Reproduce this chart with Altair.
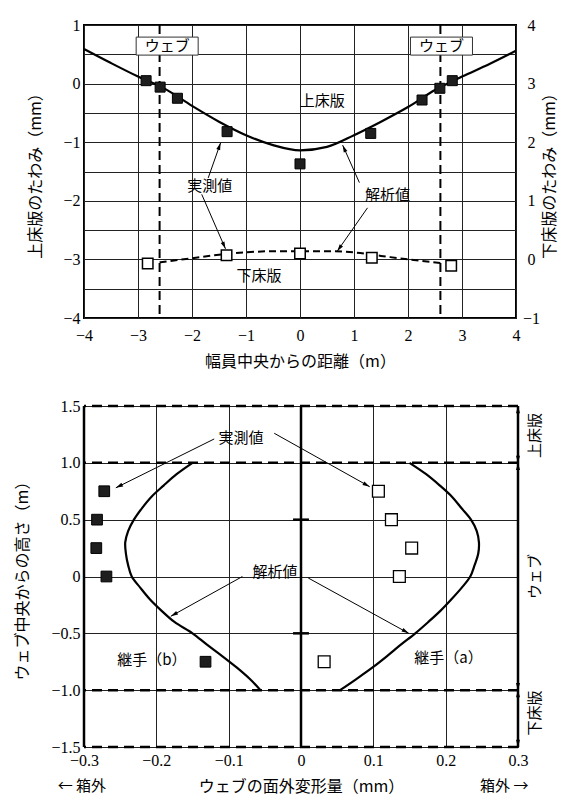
import math
import altair as alt
import pandas as pd

# ---------------- data: upper chart (deflection across the width) ----------------
top_x_curve = [-4.0, -3.5, -3.0, -2.5, -2.0, -1.5, -1.0, -0.5, 0.0, 0.5, 1.0, 1.5, 2.0, 2.5, 3.0, 3.5, 4.0]
top_y_curve = [0.59, 0.35, 0.12, -0.09, -0.38, -0.65, -0.88, -1.05, -1.14, -1.08, -0.88, -0.65, -0.40, -0.11, 0.12, 0.33, 0.56]
top_x_meas = [-2.85, -2.59, -2.27, -1.35, 0.0, 1.31, 2.26, 2.59, 2.82]
top_y_meas = [0.05, -0.06, -0.25, -0.82, -1.37, -0.85, -0.28, -0.08, 0.05]
low_x_curve = [-2.6, -2.0, -1.5, -1.0, -0.5, 0.0, 0.5, 1.0, 1.5, 2.0, 2.6]
low_y_curve = [-0.05, 0.02, 0.08, 0.12, 0.14, 0.14, 0.14, 0.12, 0.06, 0.0, -0.06]
low_x_meas = [-2.82, -1.36, 0.0, 1.33, 2.80]
low_y_meas = [-0.07, 0.07, 0.10, 0.03, -0.11]
web_positions = [-2.6, 2.6]
top_x_ticks = [-4, -3, -2, -1, 0, 1, 2, 3, 4]
top_left_ticks = [-4.0, -3.5, -3.0, -2.5, -2.0, -1.5, -1.0, -0.5, 0.0, 0.5, 1.0]
top_right_ticks = [-1, 0, 1, 2, 3, 4]

# ---------------- data: lower chart (web out-of-plane deformation) ----------------
heights = [1.0, 0.9, 0.8, 0.7, 0.6, 0.5, 0.4, 0.3, 0.2, 0.1, 0.0,
           -0.1, -0.2, -0.3, -0.4, -0.5, -0.6, -0.7, -0.8, -0.9, -1.0]
joint_b_curve = [-0.150, -0.172, -0.190, -0.207, -0.220, -0.231, -0.239, -0.243, -0.242, -0.239, -0.234,
                 -0.222, -0.209, -0.193, -0.175, -0.150, -0.130, -0.109, -0.089, -0.071, -0.056]
joint_a_curve = [0.150, 0.173, 0.192, 0.209, 0.222, 0.235, 0.243, 0.246, 0.245, 0.240, 0.234,
                 0.222, 0.208, 0.193, 0.176, 0.158, 0.138, 0.119, 0.099, 0.077, 0.054]
meas_heights = [0.75, 0.5, 0.25, 0.0, -0.75]
joint_b_meas = [-0.272, -0.282, -0.283, -0.269, -0.132]
joint_a_meas = [0.107, 0.125, 0.153, 0.136, 0.032]
slab_lines = [1.5, 1.0, -1.0, -1.5]
web_x_ticks = [-0.3, -0.2, -0.1, 0.0, 0.1, 0.2, 0.3]
web_y_ticks = [-1.5, -1.0, -0.5, 0.0, 0.5, 1.0, 1.5]

# ---------------- annotation placement (data units) ----------------
top_labels = [("実測値", -1.67, -1.75), ("解析値", 1.62, -1.90), ("上床版", 0.41, -0.29), ("下床版", -0.76, -3.29)]
top_web_labels = [("ウェブ", -2.46, 0.64), ("ウェブ", 2.62, 0.64)]
top_arrows = [(-1.70, -1.61, -1.47, -1.01), (-1.82, -1.89, -1.38, -2.82),
              (1.10, -1.69, 0.79, -1.05), (1.25, -2.12, 0.69, -2.86)]
bot_labels = [("実測値", -0.083, 1.22), ("解析値", -0.036, 0.04),
              ("継手（b）", -0.206, -0.735), ("継手（a）", 0.204, -0.72),
              ("← 箱外", -0.303, -1.84), ("箱外 →", 0.281, -1.84)]
side_labels = [("上床版", 0.323, 1.24), ("ウェブ", 0.323, 0.0), ("下床版", 0.323, -1.2)]
bot_arrows = [(-0.120, 1.21, -0.256, 0.78), (-0.037, 1.26, 0.095, 0.79),
              (-0.081, 0.0, -0.18, -0.35), (0.010, -0.013, 0.149, -0.50)]
side_arrows = [(0.3, 1.5, 0), (0.3, 1.0, 180), (0.3, 1.0, 0), (0.3, -1.0, 180), (0.3, -1.0, 0), (0.3, -1.5, 180)]

SERIF = "Liberation Serif, Times New Roman, serif"
JP = "Noto Sans CJK JP"
W1, H1 = 432, 293
W2, H2 = 434, 341
ARROW = "M0,0L-0.5,1.8L0.5,1.8Z"
BOX = "M-1.55,-0.45L1.55,-0.45L1.55,0.45L-1.55,0.45Z"


def angle(x0, y0, x1, y1, sx, sy):
    dx = (x1 - x0) * sx
    dy = -(y1 - y0) * sy
    return math.degrees(math.atan2(dx, -dy)) % 360


common = dict(labelFont=SERIF, labelFontSize=16, labelColor="black", titleFont=JP, titleFontSize=16,
              titleColor="black", titleFontWeight="normal", ticks=False, domain=False,
              gridColor="#222", gridWidth=1, gridOpacity=1, labelFlush=False)

# ---------------- upper chart ----------------
xs1 = alt.Scale(domain=[-4, 4], nice=False, zero=False)
yls = alt.Scale(domain=[-4, 1], nice=False, zero=False)
yrs = alt.Scale(domain=[-1, 4], nice=False, zero=False)
x1_axis = alt.Axis(values=top_x_ticks, grid=True, format="d", labelPadding=9,
                   title="幅員中央からの距離（m）", titleY=43, titleBaseline="middle", **common)
yl_axis = alt.Axis(values=top_left_ticks, grid=True,
                   labelExpr="datum.value % 1 == 0 ? format(datum.value, 'd') : ''", labelPadding=4,
                   title="上床版のたわみ（mm）", titleX=-49, titleY=H1 / 2, titleAngle=270,
                   titleAlign="center", titleBaseline="middle", **common)
yr_axis = alt.Axis(orient="right", values=top_right_ticks, grid=False, format="d", labelAlign="center",
                   labelPadding=15, title="下床版のたわみ（mm）", titleX=33, titleY=H1 / 2, titleAngle=270,
                   titleAlign="center", titleBaseline="middle", **common)


def X1(f="x"):
    return alt.X(f"{f}:Q", scale=xs1, axis=x1_axis)


def YL(f="y"):
    return alt.Y(f"{f}:Q", scale=yls, axis=yl_axis)


def YR(f="y"):
    return alt.Y(f"{f}:Q", scale=yrs, axis=yr_axis)


df_top_curve = pd.DataFrame({"x": top_x_curve, "y": top_y_curve})
df_top_meas = pd.DataFrame({"x": top_x_meas, "y": top_y_meas})
df_low_curve = pd.DataFrame({"x": low_x_curve, "y": low_y_curve})
df_low_meas = pd.DataFrame({"x": low_x_meas, "y": low_y_meas})
df_web = pd.DataFrame({"x": web_positions})
df_top_lab = pd.DataFrame(top_labels, columns=["t", "x", "y"])
df_web_lab = pd.DataFrame(top_web_labels, columns=["t", "x", "y"])
df_top_arr = pd.DataFrame(top_arrows, columns=["x", "y", "x2", "y2"])
df_top_arr["a"] = [angle(r.x, r.y, r.x2, r.y2, W1 / 8, H1 / 5) for r in df_top_arr.itertuples()]

web_rules = alt.Chart(df_web).mark_rule(color="black", strokeWidth=2, strokeDash=[9, 5]).encode(x=X1())
web_box = alt.Chart(df_web_lab).mark_point(shape=BOX, size=1600, filled=True, fill="white", stroke="#333",
                                           strokeWidth=1, opacity=1).encode(x=X1(), y=YL())
web_text = alt.Chart(df_web_lab).mark_text(font=JP, fontSize=15, color="black").encode(x=X1(), y=YL(), text="t:N")
top_line = alt.Chart(df_top_curve).mark_line(color="black", strokeWidth=2.2, interpolate="monotone").encode(x=X1(), y=YL())
top_sq = alt.Chart(df_top_meas).mark_point(shape="square", filled=True, fill="#1e1e1e", stroke="black",
                                           strokeWidth=1, size=100, opacity=1).encode(x=X1(), y=YL())
top_text = alt.Chart(df_top_lab).mark_text(font=JP, fontSize=15, color="black").encode(x=X1(), y=YL(), text="t:N")
top_arr_line = alt.Chart(df_top_arr).mark_rule(color="black", strokeWidth=1).encode(
    x=X1(), y=YL(), x2="x2:Q", y2="y2:Q")
top_arr_head = alt.Chart(df_top_arr).mark_point(shape=ARROW, filled=True, color="black", size=64, opacity=1).encode(
    x=X1("x2"), y=YL("y2"), angle=alt.Angle("a:Q", scale=None))

low_line = alt.Chart(df_low_curve).mark_line(color="black", strokeWidth=2, strokeDash=[7, 4],
                                             interpolate="monotone").encode(x=X1(), y=YR())
low_sq = alt.Chart(df_low_meas).mark_point(shape="square", filled=True, fill="white", stroke="black",
                                           strokeWidth=1.5, size=110, opacity=1).encode(x=X1(), y=YR())

left_group = alt.layer(web_rules, top_line, top_sq, top_arr_line, top_arr_head, top_text, web_box, web_text)
right_group = alt.layer(low_line, low_sq)
top = alt.layer(left_group, right_group).resolve_scale(y="independent").properties(
    width=W1, height=H1, view=alt.ViewBackground(stroke="black", strokeWidth=2))

# ---------------- lower chart ----------------
xs2 = alt.Scale(domain=[-0.3, 0.3], nice=False, zero=False)
ys2 = alt.Scale(domain=[-1.5, 1.5], nice=False, zero=False)
lab_expr = "abs(datum.value) < 1e-9 ? '0' : format(datum.value, '.1f')"
x2_axis = alt.Axis(values=web_x_ticks, grid=True, labelExpr=lab_expr, labelPadding=5,
                   title="ウェブの面外変形量（mm）", titleY=39, titleBaseline="middle", **common)
y2_axis = alt.Axis(values=web_y_ticks, grid=True, labelExpr=lab_expr, labelPadding=4,
                   title="ウェブ中央からの高さ（m）", titleX=-62, titleY=H2 / 2, titleAngle=270,
                   titleAlign="center", titleBaseline="middle", **common)


def X2(f="x"):
    return alt.X(f"{f}:Q", scale=xs2, axis=x2_axis)


def Y2(f="y"):
    return alt.Y(f"{f}:Q", scale=ys2, axis=y2_axis)


df_b_curve = pd.DataFrame({"x": joint_b_curve, "y": heights, "i": range(len(heights))})
df_a_curve = pd.DataFrame({"x": joint_a_curve, "y": heights, "i": range(len(heights))})
df_b_meas = pd.DataFrame({"x": joint_b_meas, "y": meas_heights})
df_a_meas = pd.DataFrame({"x": joint_a_meas, "y": meas_heights})
df_slab = pd.DataFrame({"y": slab_lines})
df_edges = pd.DataFrame({"x": [web_x_ticks[0], web_x_ticks[-1]]})
df_zero = pd.DataFrame({"x": [web_x_ticks[3]]})
df_zero_ticks = pd.DataFrame({"y": [0.5, -0.5], "x": [-0.011, -0.011], "x2": [0.011, 0.011]})
df_bot_lab = pd.DataFrame(bot_labels, columns=["t", "x", "y"])
df_side_lab = pd.DataFrame(side_labels, columns=["t", "x", "y"])
df_bot_arr = pd.DataFrame(bot_arrows, columns=["x", "y", "x2", "y2"])
df_bot_arr["a"] = [angle(r.x, r.y, r.x2, r.y2, W2 / 0.6, H2 / 3) for r in df_bot_arr.itertuples()]
df_side_arr = pd.DataFrame(side_arrows, columns=["x", "y", "a"])

slab = alt.Chart(df_slab).mark_rule(color="black", strokeWidth=2.5, strokeDash=[10, 6]).encode(y=Y2())
edges = alt.Chart(df_edges).mark_rule(color="black", strokeWidth=2.5).encode(x=X2())
zero_line = alt.Chart(df_zero).mark_rule(color="black", strokeWidth=2.5).encode(x=X2())
zero_ticks = alt.Chart(df_zero_ticks).mark_rule(color="black", strokeWidth=2.5).encode(x=X2(), x2="x2:Q", y=Y2())
b_line = alt.Chart(df_b_curve).mark_line(color="black", strokeWidth=2.2, interpolate="catmull-rom").encode(
    x=X2(), y=Y2(), order="i:Q")
a_line = alt.Chart(df_a_curve).mark_line(color="black", strokeWidth=2.2, interpolate="catmull-rom").encode(
    x=X2(), y=Y2(), order="i:Q")
b_sq = alt.Chart(df_b_meas).mark_point(shape="square", filled=True, fill="#1e1e1e", stroke="black",
                                       strokeWidth=1, size=115, opacity=1).encode(x=X2(), y=Y2())
a_sq = alt.Chart(df_a_meas).mark_point(shape="square", filled=True, fill="white", stroke="black",
                                       strokeWidth=1.3, size=140, opacity=1).encode(x=X2(), y=Y2())
bot_text = alt.Chart(df_bot_lab).mark_text(font=JP, fontSize=15, color="black").encode(x=X2(), y=Y2(), text="t:N")
side_text = alt.Chart(df_side_lab).mark_text(font=JP, fontSize=15, color="black", angle=270).encode(
    x=X2(), y=Y2(), text="t:N")
bot_arr_line = alt.Chart(df_bot_arr).mark_rule(color="black", strokeWidth=1).encode(x=X2(), y=Y2(), x2="x2:Q", y2="y2:Q")
bot_arr_head = alt.Chart(df_bot_arr).mark_point(shape=ARROW, filled=True, color="black", size=64, opacity=1).encode(
    x=X2("x2"), y=Y2("y2"), angle=alt.Angle("a:Q", scale=None))
side_head = alt.Chart(df_side_arr).mark_point(shape=ARROW, filled=True, color="black", size=64, opacity=1).encode(
    x=X2(), y=Y2(), angle=alt.Angle("a:Q", scale=None))

bottom = alt.layer(slab, zero_ticks, edges, zero_line, b_line, a_line, b_sq, a_sq, bot_arr_line, bot_arr_head,
                   side_head, bot_text, side_text).properties(
    width=W2, height=H2, view=alt.ViewBackground(stroke="black", strokeWidth=1))

chart = alt.vconcat(top, bottom, spacing=27).properties(
    padding={"left": 5, "top": 8, "right": 0, "bottom": 0}, background="white")

chart.save("out.html", embed_options={"renderer": "svg", "actions": False})
